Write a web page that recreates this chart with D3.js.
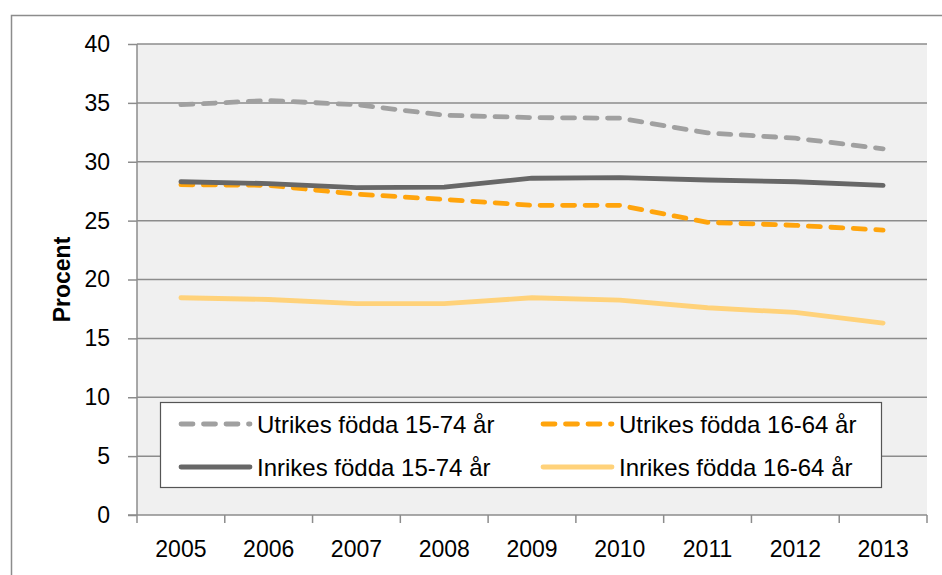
<!DOCTYPE html>
<html>
<head>
<meta charset="utf-8">
<script src="https://cdn.jsdelivr.net/npm/d3@7"></script>
<style>
  body { margin: 0; background: #fff; }
  svg { display: block; font-family: "Liberation Sans", Arial, sans-serif; }
</style>
</head>
<body>
<svg width="942" height="575"></svg>
<script>
// data
const years = ["2005", "2006", "2007", "2008", "2009", "2010", "2011", "2012", "2013"];
const utrikes1574 = [34.85, 35.2, 34.85, 33.95, 33.75, 33.7, 32.45, 32.0, 31.1];
const utrikes1664 = [28.05, 28.0, 27.25, 26.8, 26.3, 26.3, 24.85, 24.6, 24.2];
const inrikes1574 = [28.3, 28.15, 27.8, 27.85, 28.6, 28.65, 28.45, 28.3, 28.0];
const inrikes1664 = [18.45, 18.3, 17.95, 17.95, 18.45, 18.25, 17.6, 17.2, 16.3];
const yTicks = [0, 5, 10, 15, 20, 25, 30, 35, 40];

const series = [
  { name: "Utrikes födda 15-74 år", values: utrikes1574, color: "#a0a0a0", dash: "12 10.5" },
  { name: "Utrikes födda 16-64 år", values: utrikes1664, color: "#ffa40c", dash: "12 10.5" },
  { name: "Inrikes födda 15-74 år", values: inrikes1574, color: "#676767", dash: null },
  { name: "Inrikes födda 16-64 år", values: inrikes1664, color: "#ffd27a", dash: null }
];

const svg = d3.select("svg");
const plotL = 137, plotR = 927, plotT = 44, plotB = 515;

let x = d3.scaleBand().domain(years).range([plotL, plotR]);
let y = d3.scaleLinear().domain([0, 40]).range([plotB, plotT]);
const cx = d => x(d) + x.bandwidth() / 2;

// outer chart border (right / bottom edges fall outside the picture)
svg.append("path")
    .attr("d", "M11.5,580 V15.5 H950")
    .attr("fill", "none")
    .attr("stroke", "#8c8c8c")
    .attr("stroke-width", 1.5);

// plot background
svg.append("rect")
    .attr("x", plotL).attr("y", plotT)
    .attr("width", plotR - plotL).attr("height", plotB - plotT)
    .attr("fill", "#f0f0f0");

// gridlines
svg.append("g")
    .selectAll("line")
    .data(yTicks.filter(d => d > 0))
    .enter().append("line")
        .attr("x1", plotL).attr("x2", plotR)
        .attr("y1", d => y(d)).attr("y2", d => y(d))
        .attr("stroke", "#8c8c8c")
        .attr("stroke-width", 1.5);

// y axis
let yAxis = svg.append("g")
    .attr("transform", `translate(${plotL},0)`)
    .call(d3.axisLeft(y).tickValues(yTicks).tickSize(9).tickPadding(18));
yAxis.select(".domain").remove();
yAxis.append("line")
    .attr("x1", 0).attr("x2", 0).attr("y1", plotT).attr("y2", plotB)
    .attr("stroke", "#8c8c8c").attr("stroke-width", 1.5);
yAxis.selectAll(".tick line").attr("stroke", "#8c8c8c").attr("stroke-width", 1.5);
yAxis.selectAll(".tick text")
    .attr("font-size", 23)
    .attr("fill", "#000")
    .attr("font-family", "Liberation Sans, Arial, sans-serif");

// x axis
let xAxis = svg.append("g")
    .attr("transform", `translate(0,${plotB})`)
    .call(d3.axisBottom(x).tickSize(0).tickPadding(26));
xAxis.select(".domain").remove();
xAxis.selectAll(".tick text")
    .attr("font-size", 23)
    .attr("fill", "#000")
    .attr("font-family", "Liberation Sans, Arial, sans-serif");
xAxis.append("line")
    .attr("x1", plotL - 9).attr("x2", plotR).attr("y1", 0).attr("y2", 0)
    .attr("stroke", "#8c8c8c").attr("stroke-width", 1.5);
xAxis.selectAll(".bound")
    .data(years.map(d => x(d)).concat([plotR]))
    .enter().append("line")
        .attr("class", "bound")
        .attr("x1", d => d).attr("x2", d => d)
        .attr("y1", 0).attr("y2", 8)
        .attr("stroke", "#8c8c8c").attr("stroke-width", 1.5);

// y title
svg.append("text")
    .attr("transform", `translate(70,${(plotT + plotB) / 2}) rotate(-90)`)
    .attr("text-anchor", "middle")
    .attr("font-size", 23)
    .attr("font-weight", "bold")
    .text("Procent");

// lines
let line = d3.line()
    .x((d, i) => cx(years[i]))
    .y(d => y(d));

svg.append("g")
    .selectAll("path")
    .data(series)
    .enter().append("path")
        .attr("d", d => line(d.values))
        .attr("fill", "none")
        .attr("stroke", d => d.color)
        .attr("stroke-width", 4.8)
        .attr("stroke-linecap", "round")
        .attr("stroke-linejoin", "round")
        .attr("stroke-dasharray", d => d.dash);

// legend
let legend = svg.append("g");
legend.append("rect")
    .attr("x", 160.5).attr("y", 402.5)
    .attr("width", 721).attr("height", 85)
    .attr("fill", "#fff")
    .attr("stroke", "#555")
    .attr("stroke-width", 1.2);

const legX = [181, 543], legY = [424, 467];
let item = legend.selectAll(".item")
    .data(series)
    .enter().append("g")
        .attr("class", "item")
        .attr("transform", (d, i) => `translate(${legX[i % 2]},${legY[Math.floor(i / 2)]})`);
item.append("line")
    .attr("x1", 0).attr("x2", 69)
    .attr("stroke", d => d.color)
    .attr("stroke-width", 4.8)
    .attr("stroke-linecap", "round")
    .attr("stroke-dasharray", d => d.dash);
item.append("text")
    .attr("x", 76)
    .attr("dy", "0.36em")
    .attr("font-size", 24)
    .text(d => d.name);
</script>
</body>
</html>
